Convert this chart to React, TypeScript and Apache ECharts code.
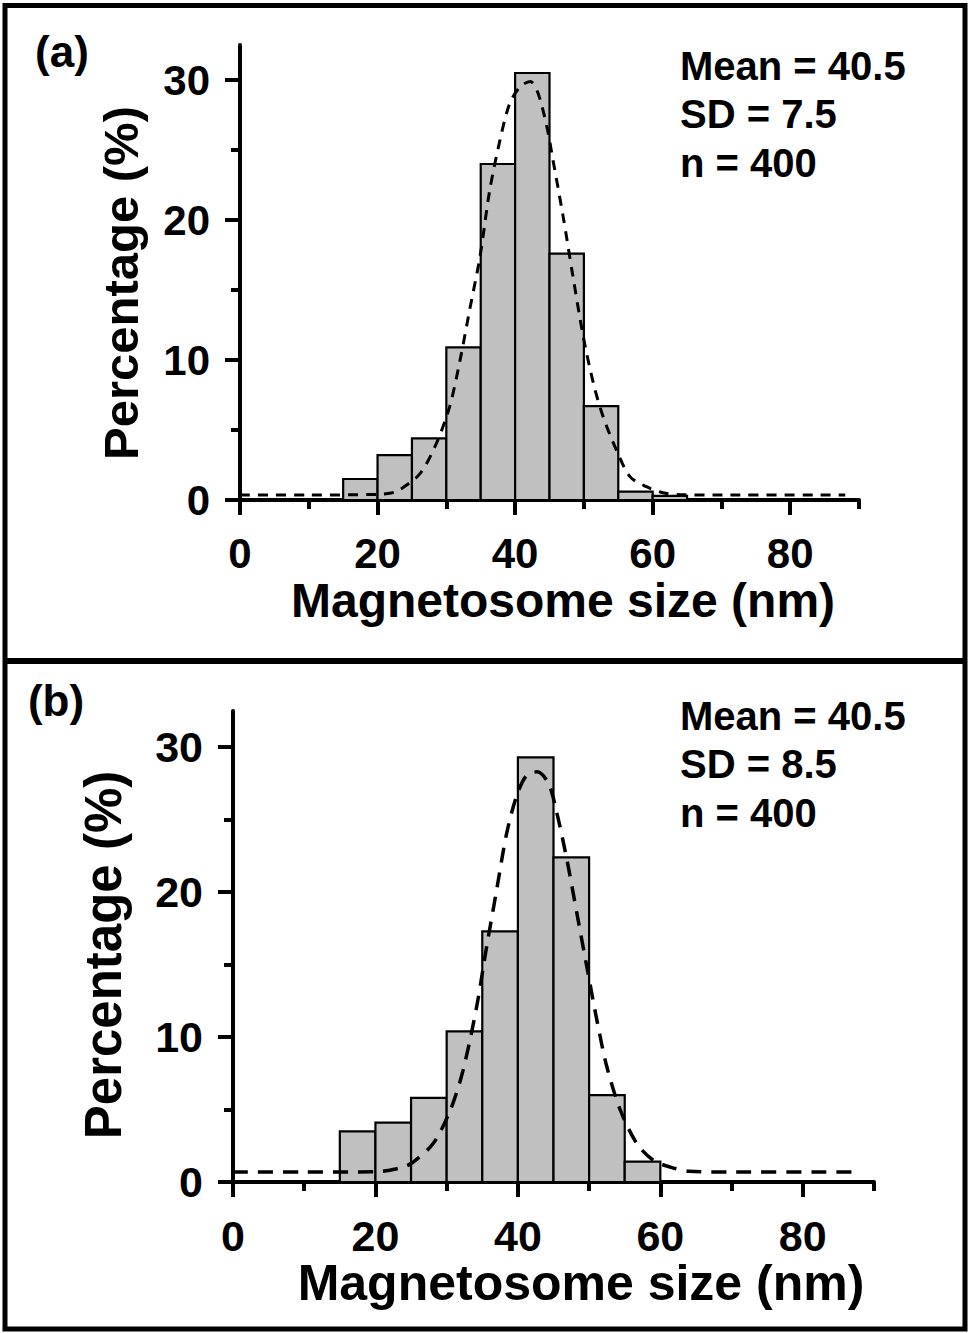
import React, { useEffect, useRef } from "react";
import * as echarts from "echarts";

// ---- data ----
const binWidth = 5;
const binStartsA = [15, 20, 25, 30, 35, 40, 45, 50, 55, 60];
const percentA = [1.5, 3.2, 4.4, 10.9, 24.0, 30.5, 17.6, 6.7, 0.6, 0.3];
const binStartsB = [15, 20, 25, 30, 35, 40, 45, 50, 55];
const percentB = [3.5, 4.1, 5.8, 10.4, 17.3, 29.3, 22.4, 6.0, 1.4];

const fitXA = [0, 10, 20, 22, 23.3, 26.2, 28.6, 30.5, 32, 33.4, 34.9, 36.3, 37.8, 39.2, 40.7, 42.2, 43.3, 44.6, 45.5, 47, 48.4, 49.9, 51.4, 52.8, 54.7, 56.7, 59.1, 61.5, 64, 70, 88];
const fitYA = [0.36, 0.36, 0.4, 0.5, 0.75, 1.9, 4.1, 6.7, 10, 13.6, 17.4, 22.1, 25.7, 28.3, 29.5, 29.9, 29.1, 26.7, 24.3, 20.2, 16, 11.7, 8.3, 5.95, 3.6, 1.67, 0.95, 0.52, 0.38, 0.36, 0.36];
const fitXB = [0, 10, 20, 23.9, 25.3, 28.1, 30.5, 32.3, 34.2, 35.6, 37, 38.4, 39.8, 41.2, 42.7, 44.3, 45.5, 46.9, 48.3, 49.7, 51.1, 52.5, 54.4, 56.7, 59, 61.4, 64, 70, 87.5];
const fitYB = [0.69, 0.69, 0.7, 1.03, 1.38, 2.65, 4.94, 7.7, 12.07, 16.2, 20.1, 24, 26.6, 28.05, 28.3, 27.5, 25.4, 22.2, 18.5, 14.8, 11.15, 7.93, 4.94, 2.65, 1.5, 1.03, 0.75, 0.69, 0.69];

const xMajorTicks = [0, 20, 40, 60, 80];
const xMinorTicks = [10, 30, 50, 70, 90];
const yMajorTicks = [0, 10, 20, 30];
const yMinorTicks = [5, 15, 25];
const xMin = 0;
const xMax = 90;
const yMin = 0;
const yMax = 32.5;

const statsA = ["Mean = 40.5", "SD = 7.5", "n = 400"];
const statsB = ["Mean = 40.5", "SD = 8.5", "n = 400"];
const panelLabels = ["(a)", "(b)"];
const xTitle = "Magnetosome size (nm)";
const yTitle = "Percentage (%)";

const FONT = "'Liberation Sans', Arial, Helvetica, sans-serif";

export default function App() {
  const ref = useRef<HTMLDivElement>(null);

  useEffect(() => {
    if (!ref.current) return;
    const chart = echarts.init(ref.current, undefined, { renderer: "svg", width: 968, height: 1333 });

    const panels = [
      {
        grid: { left: 240, top: 45, width: 619, height: 455 },
        s: 1,
        starts: binStartsA,
        pct: percentA,
        fit: fitXA.map((x, i) => [x, fitYA[i]]),
        dash: [10, 8],
        dashW: 3,
        label: panelLabels[0],
        labelPos: [62, 51],
        stats: statsA,
        statsX: 680,
        statsY: [66, 114, 163],
        yTitlePos: [121, 283],
        xTitlePos: [563, 600],
      },
      {
        grid: { left: 233, top: 711, width: 641, height: 471 },
        s: 1.035,
        starts: binStartsB,
        pct: percentB,
        fit: fitXB.map((x, i) => [x, fitYB[i]]),
        dash: [15, 10],
        dashW: 3.5,
        label: panelLabels[1],
        labelPos: [56, 700],
        stats: statsB,
        statsX: 680,
        statsY: [716, 764, 813],
        yTitlePos: [103, 955],
        xTitlePos: [581, 1283],
      },
    ];

    const grids: any[] = [];
    const xAxes: any[] = [];
    const yAxes: any[] = [];
    const series: any[] = [];
    const graphics: any[] = [];

    panels.forEach((p, gi) => {
      grids.push({ ...p.grid, containLabel: false });
      const tickStyle = { color: "#000", width: 4 };
      const labelStyle = {
        color: "#000",
        fontSize: Math.round(42 * p.s),
        fontWeight: "bold",
        fontFamily: FONT,
      };
      xAxes.push({
        type: "value",
        gridIndex: gi,
        min: xMin,
        max: xMax,
        position: "bottom",
        axisLine: { show: true, onZero: false, lineStyle: { color: "#000", width: 4 } },
        axisTick: { show: true, customValues: xMajorTicks, length: 15, lineStyle: tickStyle },
        axisLabel: { ...labelStyle, customValues: xMajorTicks, margin: 32 },
        splitLine: { show: false },
      });
      xAxes.push({
        type: "value",
        gridIndex: gi,
        min: xMin,
        max: xMax,
        position: "bottom",
        axisLine: { show: false, onZero: false },
        axisTick: { show: true, customValues: xMinorTicks, length: 9, lineStyle: tickStyle },
        axisLabel: { show: false },
        splitLine: { show: false },
      });
      yAxes.push({
        type: "value",
        gridIndex: gi,
        min: yMin,
        max: yMax,
        position: "left",
        axisLine: { show: true, onZero: false, lineStyle: { color: "#000", width: 4 } },
        axisTick: { show: true, customValues: yMajorTicks, length: 15, lineStyle: tickStyle },
        axisLabel: { ...labelStyle, customValues: yMajorTicks, margin: 30 },
        splitLine: { show: false },
      });
      yAxes.push({
        type: "value",
        gridIndex: gi,
        min: yMin,
        max: yMax,
        position: "left",
        axisLine: { show: false, onZero: false },
        axisTick: { show: true, customValues: yMinorTicks, length: 9, lineStyle: tickStyle },
        axisLabel: { show: false },
        splitLine: { show: false },
      });

      const xi = gi * 2;
      const yi = gi * 2;
      series.push({
        type: "custom",
        xAxisIndex: xi,
        yAxisIndex: yi,
        z: 2,
        data: p.starts.map((st, i) => [st, st + binWidth, p.pct[i]]),
        encode: { x: [0, 1], y: 2 },
        renderItem: (_params: any, api: any) => {
          const x0 = api.value(0);
          const x1 = api.value(1);
          const v = api.value(2);
          const a = api.coord([x0, v]);
          const b = api.coord([x1, 0]);
          return {
            type: "rect",
            shape: { x: a[0], y: a[1], width: b[0] - a[0], height: b[1] - a[1] },
            style: { fill: "#c0c0c0", stroke: "#000", lineWidth: 2.2 },
          };
        },
      });
      series.push({
        type: "line",
        xAxisIndex: xi,
        yAxisIndex: yi,
        z: 3,
        data: p.fit,
        smooth: 0.3,
        showSymbol: false,
        symbol: "none",
        lineStyle: { color: "#000", width: p.dashW, type: p.dash },
      });

      graphics.push({
        type: "text",
        x: p.labelPos[0],
        y: p.labelPos[1],
        style: {
          text: p.label,
          fontSize: 44,
          fontWeight: "bold",
          fontFamily: FONT,
          fill: "#000",
          align: "center",
          verticalAlign: "middle",
        },
      });
      p.stats.forEach((t, i) => {
        graphics.push({
          type: "text",
          x: p.statsX,
          y: p.statsY[i],
          style: {
            text: t,
            fontSize: 40,
            fontWeight: "bold",
            fontFamily: FONT,
            fill: "#000",
            align: "left",
            verticalAlign: "middle",
          },
        });
      });
      graphics.push({
        type: "text",
        x: p.yTitlePos[0],
        y: p.yTitlePos[1],
        rotation: Math.PI / 2,
        style: {
          text: yTitle,
          fontSize: Math.round(49 * p.s),
          fontWeight: "bold",
          fontFamily: FONT,
          fill: "#000",
          align: "center",
          verticalAlign: "middle",
        },
      });
      graphics.push({
        type: "text",
        x: p.xTitlePos[0],
        y: p.xTitlePos[1],
        style: {
          text: xTitle,
          fontSize: Math.round(48 * p.s),
          fontWeight: "bold",
          fontFamily: FONT,
          fill: "#000",
          align: "center",
          verticalAlign: "middle",
        },
      });
    });

    graphics.push({
      type: "rect",
      shape: { x: 5, y: 5.5, width: 960, height: 1323.5 },
      style: { fill: "none", stroke: "#000", lineWidth: 5 },
      z: 10,
    });
    graphics.push({
      type: "line",
      shape: { x1: 5, y1: 661, x2: 965, y2: 661 },
      style: { stroke: "#000", lineWidth: 6 },
      z: 10,
    });

    chart.setOption({
      animation: false,
      backgroundColor: "#ffffff",
      grid: grids,
      xAxis: xAxes,
      yAxis: yAxes,
      series,
      graphic: graphics,
    });

    return () => {
      chart.dispose();
    };
  }, []);

  return (
    <div
      ref={ref}
      style={{ position: "absolute", left: 0, top: 0, width: 968, height: 1333, background: "#fff" }}
    />
  );
}
